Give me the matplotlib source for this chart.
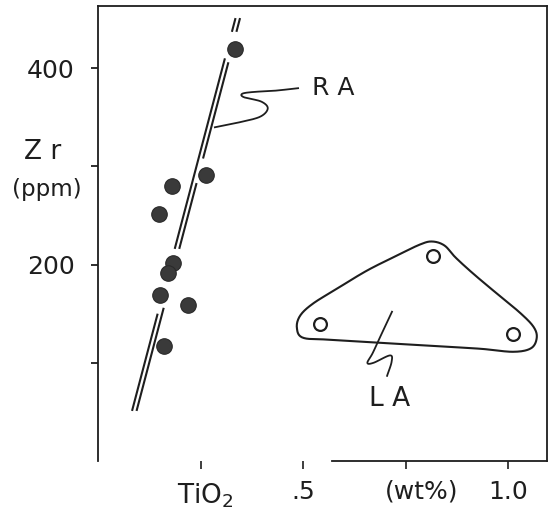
import numpy as np
import matplotlib
matplotlib.use("Agg")
import matplotlib.pyplot as plt
from matplotlib.path import Path
from matplotlib.patches import PathPatch

# RA samples (filled dots): TiO2 wt%, Zr ppm
ra_tio2 = [0.334, 0.263, 0.180, 0.149, 0.183, 0.171, 0.151, 0.220, 0.161]
ra_zr = [420, 291, 280, 251, 202, 191, 169, 159, 117]

# LA samples (open circles)
la_tio2 = [0.817, 0.541, 1.012]
la_zr = [209, 139, 129]

# RA trend (double line): bottom point and slope dTiO2/dZr
trend_x0, trend_z0 = 0.083, 51
trend_slope = 6.31e-4
trend_offset = 0.011
left_segments = [(51, 150), (216, 410), (437, 451)]
right_segments = [(51, 156), (216, 283), (308, 406), (437, 451)]

# LA field outline
la_outline_x = [0.485, 0.493, 0.524, 0.583, 0.656, 0.729, 0.785, 0.815, 0.845, 0.872,
                0.915, 0.973, 1.029, 1.062, 1.070, 1.056, 1.012, 0.932, 0.810, 0.688,
                0.566, 0.500]
la_outline_z = [135.7, 148.0, 160.2, 175.5, 193.9, 209.2, 220.4, 223.5, 219.4, 207.2,
                190.8, 170.4, 151.0, 136.7, 125.5, 114.8, 111.2, 114.3, 117.3, 120.4,
                123.5, 125.5]

# leader lines for the labels
ra_lead_x = [0.285, 0.341, 0.395, 0.414, 0.398, 0.356, 0.352, 0.380, 0.430, 0.488]
ra_lead_z = [339.8, 344.5, 350.5, 359.0, 366.0, 370.4, 374.0, 375.8, 377.0, 379.6]
la_lead_x = [0.717, 0.690, 0.670, 0.657, 0.672, 0.712, 0.716, 0.705]
la_lead_z = [152.0, 128.0, 110.0, 100.0, 100.0, 107.5, 101.0, 86.7]

yticks = [100, 200, 300, 400]
ytick_labels = ['', '200', '', '400']
xticks = [0.25, 0.5, 0.75, 1.0]
xtick_labels = ['', '.5', '', '1.0']

ink = '#1e1e1e'
dot = '#3a3a3a'

fig = plt.figure(figsize=(5.55, 5.18), dpi=100)
ax = fig.add_axes([98 / 555, 1 - 461 / 518, 449 / 555, 455 / 518])
ax.set_xlim(0, 1.095)
ax.set_ylim(0, 463.3)

# work in pixel-like units so the smoothing is not skewed by the axis scales
sx, sz = 410.0, 0.98


def smooth(x, y, closed=False, n=16):
    # Catmull-Rom spline through the points
    p = np.column_stack([np.asarray(x) * sx, np.asarray(y) * sz])
    if not closed:
        p = np.vstack([2 * p[0] - p[1], p, 2 * p[-1] - p[-2]])
    m = len(p)
    rng = range(m) if closed else range(1, m - 2)
    out = []
    t = np.linspace(0, 1, n, endpoint=False)[:, None]
    for i in rng:
        p0, p1, p2, p3 = p[i - 1], p[i], p[(i + 1) % m], p[(i + 2) % m]
        out.append(0.5 * ((2 * p1) + (-p0 + p2) * t + (2 * p0 - 5 * p1 + 4 * p2 - p3) * t ** 2
                          + (-p0 + 3 * p1 - 3 * p2 + p3) * t ** 3))
    out = np.vstack(out)
    out = np.vstack([out, out[:1]]) if closed else np.vstack([out, p[-2]])
    return out[:, 0] / sx, out[:, 1] / sz


# RA double line
for segs, off in [(left_segments, 0.0), (right_segments, trend_offset)]:
    for z0, z1 in segs:
        zz = np.array([z0, z1])
        ax.plot(trend_x0 + off + (zz - trend_z0) * trend_slope, zz, color=ink, lw=1.5,
                solid_capstyle='butt')

ax.scatter(ra_tio2, ra_zr, s=125, color=dot, edgecolor='#2a2a2a', linewidth=0.8, zorder=3)
ax.scatter(la_tio2, la_zr, s=85, facecolor='white', edgecolor=ink, linewidth=1.6, zorder=3)

ox, oz = smooth(la_outline_x, la_outline_z, closed=True)
ax.add_patch(PathPatch(Path(np.column_stack([ox, oz])), facecolor='none', edgecolor=ink, lw=1.5))

rx, rz = smooth(ra_lead_x, ra_lead_z)
ax.plot(rx, rz, color=ink, lw=1.3)
lx, lz = smooth(la_lead_x, la_lead_z)
ax.plot(lx, lz, color=ink, lw=1.3)
ax.text(0.573, 379.6, 'R A', fontsize=18, color=ink, ha='center', va='center')
ax.text(0.712, 63.5, 'L A', fontsize=19, color=ink, ha='center', va='center')

ax.set_yticks(yticks)
ax.set_yticklabels(ytick_labels)
ax.set_xticks(xticks)
ax.set_xticklabels(xtick_labels)
ax.tick_params(axis='y', length=5, width=1.3, pad=12, labelsize=18, colors=ink)
ax.tick_params(axis='x', length=6, width=1.2, pad=8, labelsize=18, colors=ink)

for s in ax.spines.values():
    s.set_linewidth(1.3)
    s.set_color(ink)
ax.spines['bottom'].set_bounds(0.57, 1.095)

fig.text(205 / 555, 1 - 496 / 518, 'TiO$_2$', fontsize=19, color=ink, ha='center', va='center')
fig.text(422 / 555, 1 - 492 / 518, '(wt%)', fontsize=18, color=ink, ha='center', va='center')
fig.text(43 / 555, 1 - 152 / 518, 'Z r', fontsize=19, color=ink, ha='center', va='center')
fig.text(47 / 555, 1 - 190 / 518, '(ppm)', fontsize=16.5, color=ink, ha='center', va='center')

fig.savefig('out.png', dpi=100, facecolor='white')
